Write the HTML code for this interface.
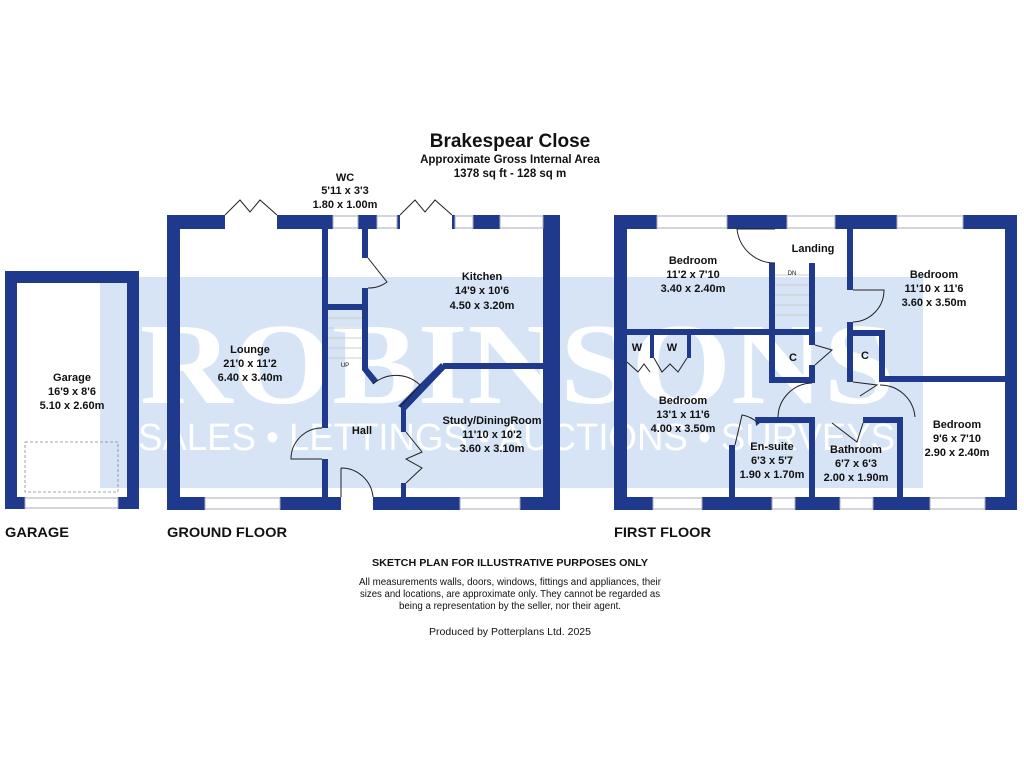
<!DOCTYPE html>
<html><head><meta charset="utf-8"><style>
html,body{margin:0;padding:0;background:#fff;}
svg{display:block;}
.l{font-family:"Liberation Sans",sans-serif;font-weight:bold;font-size:11px;fill:#111;text-anchor:middle;}
.w{fill:#1f3a8c;}
.win{fill:#fff;stroke:#aab;stroke-width:1;}
.d{fill:none;stroke:#222;stroke-width:1;}
</style></head><body>
<svg width="1024" height="768" viewBox="0 0 1024 768" xmlns="http://www.w3.org/2000/svg">
<!-- watermark band -->
<rect x="100" y="277" width="823" height="211" fill="#d6e4f6"/>
<text x="140" y="403" font-family="Liberation Serif,serif" font-weight="bold" font-size="116" fill="#fff" textLength="755" lengthAdjust="spacingAndGlyphs">ROBINSONS</text>
<text x="138" y="450" font-family="Liberation Sans,sans-serif" font-size="38" fill="#fff" textLength="757" lengthAdjust="spacingAndGlyphs">SALES • LETTINGS • AUCTIONS • SURVEYS</text>

<!-- title -->
<text x="510" y="147" class="l" style="font-size:19px">Brakespear Close</text>
<text x="510" y="163" class="l" style="font-size:11.5px">Approximate Gross Internal Area</text>
<text x="510" y="177" class="l" style="font-size:11.5px">1378 sq ft - 128 sq m</text>
<text x="345" y="181" class="l">WC</text>
<text x="345" y="194" class="l">5'11 x 3'3</text>
<text x="345" y="208" class="l">1.80 x 1.00m</text>

<!-- GARAGE -->
<g class="w">
<rect x="5" y="271" width="134" height="12"/>
<rect x="5" y="271" width="12" height="238"/>
<rect x="127" y="271" width="12" height="238"/>
<rect x="5" y="497" width="20" height="12"/>
<rect x="118" y="497" width="21" height="12"/>
</g>
<rect x="25" y="498" width="93" height="10" class="win"/>
<rect x="25" y="442" width="93" height="50" fill="none" stroke="#888" stroke-dasharray="3,2" stroke-width="0.8"/>
<text x="72" y="381" class="l">Garage</text>
<text x="72" y="395" class="l">16'9 x 8'6</text>
<text x="72" y="409" class="l">5.10 x 2.60m</text>

<!-- GROUND FLOOR walls -->
<g class="w">
<rect x="167" y="215" width="58" height="14"/>
<rect x="277" y="215" width="56" height="14"/>
<rect x="358" y="215" width="19" height="14"/>
<rect x="397" y="215" width="3" height="14"/>
<rect x="452" y="215" width="3" height="14"/>
<rect x="473" y="215" width="27" height="14"/>
<rect x="543" y="215" width="17" height="14"/>
<rect x="167" y="215" width="13" height="295"/>
<rect x="543" y="215" width="17" height="295"/>
<rect x="167" y="497" width="38" height="13"/>
<rect x="280" y="497" width="61" height="13"/>
<rect x="373" y="497" width="87" height="13"/>
<rect x="520" y="497" width="40" height="13"/>
<rect x="322" y="229" width="6" height="199"/>
<rect x="322" y="459" width="6" height="40"/>
<rect x="362" y="229" width="6" height="29"/>
<rect x="362" y="288" width="6" height="82"/>
<rect x="328" y="304" width="34" height="6"/>
<rect x="443" y="363" width="100" height="6"/>
<rect x="401" y="407" width="5" height="25"/>
<rect x="401" y="483" width="5" height="16"/>
</g>
<polygon class="w" points="362,370 368,368 378,380 373,384"/>
<polygon class="w" points="441,363 446,368 406,410 398,406"/>
<g class="win">
<rect x="333" y="216" width="25" height="12"/>
<rect x="377" y="216" width="20" height="12"/>
<rect x="455" y="216" width="18" height="12"/>
<rect x="500" y="216" width="43" height="12"/>
<rect x="205" y="498" width="75" height="11"/>
<rect x="460" y="498" width="60" height="11"/>
</g>
<!-- doors -->
<path class="d" d="M225,215 L240,200 L250,212 L260,200 L277,215"/>
<path class="d" d="M400,215 L415,200 L425,212 L435,200 L452,215"/>
<path class="d" d="M368,258 L387,282 A30,30 0 0 1 368,288"/>
<path class="d" d="M373,384 A35,35 0 0 1 420,385 L400,407"/>
<path class="d" d="M406,432 L422,452 L406,459 L422,468 L406,483"/>
<path class="d" d="M322,428 A31,31 0 0 0 291,459 L322,459"/>
<path class="d" d="M341,468 L341,497 M341,468 A32,32 0 0 1 373,497"/>
<g stroke="#ccc" stroke-width="1">
<line x1="328" y1="318" x2="362" y2="318"/><line x1="328" y1="328" x2="362" y2="328"/>
<line x1="328" y1="338" x2="362" y2="338"/><line x1="328" y1="348" x2="362" y2="348"/>
<line x1="328" y1="358" x2="362" y2="358"/>
</g>
<text x="345" y="367" class="l" style="font-size:6px;font-weight:normal">UP</text>
<text x="250" y="353" class="l">Lounge</text>
<text x="250" y="367" class="l">21'0 x 11'2</text>
<text x="250" y="381" class="l">6.40 x 3.40m</text>
<text x="482" y="280" class="l">Kitchen</text>
<text x="482" y="294" class="l">14'9 x 10'6</text>
<text x="482" y="309" class="l">4.50 x 3.20m</text>
<text x="362" y="434" class="l">Hall</text>
<text x="492" y="424" class="l">Study/DiningRoom</text>
<text x="492" y="438" class="l">11'10 x 10'2</text>
<text x="492" y="452" class="l">3.60 x 3.10m</text>

<!-- FIRST FLOOR walls -->
<g class="w">
<rect x="614" y="215" width="43" height="14"/>
<rect x="727" y="215" width="60" height="14"/>
<rect x="835" y="215" width="62" height="14"/>
<rect x="963" y="215" width="54" height="14"/>
<rect x="614" y="215" width="13" height="295"/>
<rect x="1005" y="215" width="12" height="295"/>
<rect x="614" y="497" width="39" height="13"/>
<rect x="702" y="497" width="70" height="13"/>
<rect x="795" y="497" width="45" height="13"/>
<rect x="873" y="497" width="57" height="13"/>
<rect x="985" y="497" width="32" height="13"/>
<rect x="627" y="329" width="188" height="6"/>
<rect x="769" y="263" width="6" height="120"/>
<rect x="809" y="263" width="6" height="82"/>
<rect x="809" y="365" width="6" height="18"/>
<rect x="769" y="377" width="46" height="6"/>
<rect x="847" y="229" width="6" height="61"/>
<rect x="847" y="322" width="6" height="60"/>
<rect x="853" y="330" width="32" height="6"/>
<rect x="879" y="330" width="6" height="52"/>
<rect x="879" y="376" width="126" height="6"/>
<rect x="758" y="417" width="52" height="6"/>
<rect x="863" y="417" width="40" height="6"/>
<rect x="897" y="417" width="6" height="82"/>
<rect x="809" y="417" width="6" height="82"/>
<rect x="729" y="445" width="6" height="54"/>
<rect x="650" y="335" width="4" height="23"/>
<rect x="687" y="335" width="4" height="23"/>
</g>
<polygon class="w" points="755,417 760,417 760,423 756,426"/>
<g class="win">
<rect x="657" y="216" width="70" height="12"/>
<rect x="787" y="216" width="48" height="12"/>
<rect x="897" y="216" width="66" height="12"/>
<rect x="653" y="498" width="49" height="11"/>
<rect x="772" y="498" width="23" height="11"/>
<rect x="840" y="498" width="33" height="11"/>
<rect x="930" y="498" width="55" height="11"/>
</g>
<path class="d" d="M775,229 L737,229 A38,38 0 0 0 775,263"/>
<path class="d" d="M853,290 L884,290 A32,32 0 0 1 853,322"/>
<path class="d" d="M815,345 L832,350 L815,365"/>
<path class="d" d="M853,382 L877,385 L860,396"/>
<path class="d" d="M778,417 A35,35 0 0 1 812,383 M915,417 A35,35 0 0 0 880,385"/>
<path class="d" d="M832,423 L857,442 L863,423"/>
<path class="d" d="M735,445 L742,415 A30,30 0 0 1 758,423"/>
<path class="d" d="M627,362 L638,372 L644,364 L650,372 M654,358 L662,372 L670,364 L678,372 L687,358"/>
<g stroke="#ccc" stroke-width="1">
<line x1="775" y1="275" x2="809" y2="275"/><line x1="775" y1="285" x2="809" y2="285"/>
<line x1="775" y1="295" x2="809" y2="295"/><line x1="775" y1="305" x2="809" y2="305"/>
<line x1="775" y1="315" x2="809" y2="315"/>
</g>
<text x="792" y="275" class="l" style="font-size:6px;font-weight:normal">DN</text>
<text x="693" y="264" class="l">Bedroom</text>
<text x="693" y="278" class="l">11'2 x 7'10</text>
<text x="693" y="292" class="l">3.40 x 2.40m</text>
<text x="813" y="252" class="l">Landing</text>
<text x="934" y="278" class="l">Bedroom</text>
<text x="934" y="292" class="l">11'10 x 11'6</text>
<text x="934" y="306" class="l">3.60 x 3.50m</text>
<text x="637" y="351" class="l">W</text>
<text x="672" y="351" class="l">W</text>
<text x="793" y="361" class="l">C</text>
<text x="865" y="359" class="l">C</text>
<text x="683" y="404" class="l">Bedroom</text>
<text x="683" y="418" class="l">13'1 x 11'6</text>
<text x="683" y="432" class="l">4.00 x 3.50m</text>
<text x="772" y="450" class="l">En-suite</text>
<text x="772" y="464" class="l">6'3 x 5'7</text>
<text x="772" y="478" class="l">1.90 x 1.70m</text>
<text x="856" y="453" class="l">Bathroom</text>
<text x="856" y="467" class="l">6'7 x 6'3</text>
<text x="856" y="481" class="l">2.00 x 1.90m</text>
<text x="957" y="428" class="l">Bedroom</text>
<text x="957" y="442" class="l">9'6 x 7'10</text>
<text x="957" y="456" class="l">2.90 x 2.40m</text>

<!-- floor labels -->
<g font-family="Liberation Sans,sans-serif" font-weight="bold" font-size="14" fill="#111">
<text x="5" y="537" textLength="64" lengthAdjust="spacingAndGlyphs">GARAGE</text>
<text x="167" y="537" textLength="120" lengthAdjust="spacingAndGlyphs">GROUND FLOOR</text>
<text x="614" y="537" textLength="97" lengthAdjust="spacingAndGlyphs">FIRST FLOOR</text>
</g>
<g font-family="Liberation Sans,sans-serif" font-size="10" fill="#111" text-anchor="middle">
<text x="510" y="566" font-weight="bold" textLength="276" lengthAdjust="spacingAndGlyphs">SKETCH PLAN FOR ILLUSTRATIVE PURPOSES ONLY</text>
<text x="510" y="585" textLength="302" lengthAdjust="spacingAndGlyphs">All measurements walls, doors, windows, fittings and appliances, their</text>
<text x="510" y="597" textLength="300" lengthAdjust="spacingAndGlyphs">sizes and locations, are approximate only. They cannot be regarded as</text>
<text x="510" y="609" textLength="222" lengthAdjust="spacingAndGlyphs">being a representation by the seller, nor their agent.</text>
<text x="510" y="635" textLength="162" lengthAdjust="spacingAndGlyphs">Produced by Potterplans Ltd. 2025</text>
</g>
</svg>
</body></html>
